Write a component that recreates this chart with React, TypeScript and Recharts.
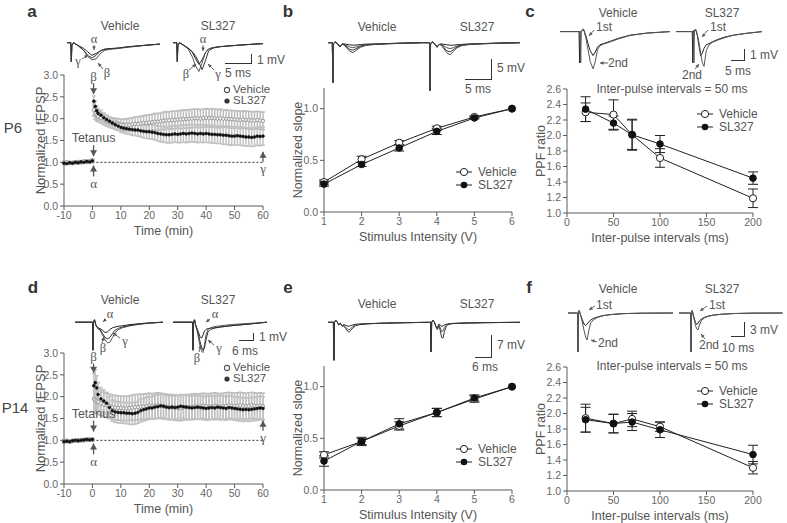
import React from 'react';
import {
  ComposedChart,
  LineChart,
  Line,
  XAxis,
  YAxis,
  ErrorBar,
  ReferenceLine,
  ReferenceDot,
} from 'recharts';

const FONT = '"Liberation Sans", Arial, Helvetica, sans-serif';
const SERIF = '"Liberation Serif", "Times New Roman", serif';
const AXIS = '#5a5a5a';
const TEXT = '#555';
const INK = '#222';
const TRACE_COLORS = ['#222', '#555', '#333', '#444'];

// ---- LTP time course (a, d), minutes ----
const TIME = [
  -10, -9, -8, -7, -6, -5, -4, -3, -2, -1, 0,
  0.5, 1, 1.5, 2,
  3, 4, 5, 6, 7, 8, 9, 10,
  11, 12, 13, 14, 15, 16, 17, 18, 19, 20,
  21, 22, 23, 24, 25, 26, 27, 28, 29, 30,
  31, 32, 33, 34, 35, 36, 37, 38, 39, 40,
  41, 42, 43, 44, 45, 46, 47, 48, 49, 50,
  51, 52, 53, 54, 55, 56, 57, 58, 59, 60,
];

const A_VEH = [
  0.99, 1.0, 0.98, 0.99, 1.0, 1.01, 1.0, 1.02, 1.01, 1.02, 1.04,
  2.2, 2.12, 2.08, 2.05,
  2.02, 1.98, 1.95, 1.92, 1.9, 1.88, 1.87, 1.86,
  1.85, 1.86, 1.86, 1.87, 1.88, 1.88, 1.89, 1.9, 1.9, 1.91,
  1.92, 1.93, 1.93, 1.94, 1.95, 1.96, 1.96, 1.97, 1.97, 1.98,
  1.98, 1.99, 1.99, 2.0, 2.0, 2.01, 2.01, 2.0, 2.01, 2.02,
  2.01, 2.02, 2.01, 2.0, 2.01, 2.0, 2.0, 1.99, 1.99, 1.98,
  1.98, 1.97, 1.98, 1.97, 1.97, 1.96, 1.96, 1.97, 1.96, 1.95,
];
const A_VEH_ERR = [
  0.03, 0.03, 0.02, 0.03, 0.03, 0.02, 0.03, 0.03, 0.03, 0.03, 0.04,
  0.14, 0.13, 0.13, 0.12,
  0.12, 0.12, 0.12, 0.12, 0.12, 0.13, 0.13, 0.13,
  0.14, 0.14, 0.15, 0.15, 0.16, 0.16, 0.17, 0.17, 0.18, 0.18,
  0.18, 0.19, 0.19, 0.19, 0.2, 0.2, 0.2, 0.2, 0.2, 0.2,
  0.21, 0.21, 0.21, 0.21, 0.21, 0.21, 0.21, 0.21, 0.21, 0.21,
  0.21, 0.21, 0.21, 0.21, 0.21, 0.2, 0.2, 0.2, 0.2, 0.2,
  0.2, 0.2, 0.2, 0.2, 0.2, 0.2, 0.2, 0.2, 0.2, 0.2,
];
const A_SL = [
  0.98, 0.97, 0.99, 0.98, 1.0, 0.99, 1.01, 1.0, 1.02, 1.01, 1.03,
  2.4, 2.28, 2.18, 2.12,
  2.08, 2.02, 1.98, 1.94, 1.9, 1.86, 1.83, 1.8,
  1.78, 1.77, 1.76, 1.75, 1.74, 1.74, 1.72, 1.71, 1.7, 1.7,
  1.69, 1.68, 1.66, 1.65, 1.64, 1.63, 1.63, 1.64, 1.65, 1.64,
  1.65, 1.66, 1.65, 1.66, 1.67, 1.66, 1.65, 1.66, 1.65, 1.66,
  1.65, 1.64, 1.64, 1.63, 1.63, 1.62, 1.62, 1.61, 1.6, 1.6,
  1.61, 1.6, 1.59, 1.58, 1.58, 1.57, 1.58, 1.6, 1.59, 1.6,
];
const A_SL_ERR = [
  0.03, 0.02, 0.03, 0.03, 0.02, 0.03, 0.03, 0.02, 0.03, 0.03, 0.04,
  0.12, 0.12, 0.11, 0.11,
  0.11, 0.11, 0.1, 0.1, 0.1, 0.1, 0.1, 0.11,
  0.11, 0.12, 0.12, 0.13, 0.13, 0.14, 0.14, 0.15, 0.15, 0.16,
  0.16, 0.17, 0.17, 0.18, 0.18, 0.18, 0.19, 0.19, 0.19, 0.19,
  0.2, 0.2, 0.2, 0.2, 0.2, 0.2, 0.2, 0.2, 0.2, 0.2,
  0.2, 0.2, 0.2, 0.2, 0.2, 0.21, 0.21, 0.21, 0.21, 0.21,
  0.21, 0.21, 0.21, 0.21, 0.21, 0.21, 0.21, 0.21, 0.21, 0.21,
];

const D_VEH = [
  0.98, 0.99, 0.97, 0.98, 0.99, 1.0, 1.01, 1.0, 1.01, 1.02, 1.01,
  1.95, 1.92, 1.9, 1.88,
  1.85, 1.82, 1.8, 1.78, 1.76, 1.75, 1.74, 1.74,
  1.73, 1.73, 1.74, 1.75, 1.76, 1.76, 1.77, 1.77, 1.78, 1.79,
  1.78, 1.79, 1.8, 1.79, 1.78, 1.77, 1.76, 1.76, 1.75, 1.74,
  1.74, 1.75, 1.76, 1.76, 1.77, 1.78, 1.77, 1.78, 1.79, 1.78,
  1.77, 1.78, 1.79, 1.78, 1.77, 1.78, 1.79, 1.8, 1.79, 1.78,
  1.79, 1.8, 1.79, 1.78, 1.79, 1.8, 1.79, 1.78, 1.79, 1.78,
];
const D_VEH_ERR = [
  0.03, 0.03, 0.03, 0.02, 0.03, 0.03, 0.02, 0.03, 0.03, 0.03, 0.03,
  0.3, 0.3, 0.29, 0.29,
  0.28, 0.28, 0.28, 0.28, 0.28, 0.28, 0.28, 0.28,
  0.28, 0.28, 0.28, 0.29, 0.29, 0.29, 0.29, 0.29, 0.29, 0.29,
  0.29, 0.29, 0.29, 0.29, 0.29, 0.29, 0.29, 0.29, 0.29, 0.29,
  0.29, 0.29, 0.29, 0.29, 0.29, 0.29, 0.29, 0.29, 0.29, 0.29,
  0.3, 0.3, 0.3, 0.3, 0.3, 0.3, 0.3, 0.3, 0.3, 0.3,
  0.3, 0.3, 0.3, 0.3, 0.3, 0.3, 0.3, 0.3, 0.3, 0.3,
];
const D_SL = [
  0.97, 0.98, 0.97, 0.99, 1.0, 0.99, 1.0, 1.01, 1.02, 1.01, 1.02,
  2.25, 2.32, 2.2, 2.05,
  1.95, 1.9, 1.85, 1.75, 1.68, 1.65, 1.64, 1.63,
  1.63, 1.62, 1.62, 1.61, 1.62, 1.64, 1.68, 1.7, 1.72, 1.74,
  1.74, 1.76, 1.77, 1.79, 1.78, 1.76, 1.75, 1.76, 1.75, 1.76,
  1.78, 1.77, 1.76, 1.75, 1.74, 1.75, 1.76, 1.75, 1.74, 1.73,
  1.74, 1.75, 1.74, 1.76, 1.75, 1.74, 1.73, 1.75, 1.74, 1.73,
  1.72, 1.71, 1.7, 1.71, 1.7, 1.71, 1.72, 1.73, 1.74, 1.73,
];
const D_SL_ERR = [
  0.03, 0.03, 0.03, 0.03, 0.02, 0.03, 0.03, 0.03, 0.03, 0.03, 0.03,
  0.28, 0.3, 0.28, 0.27,
  0.26, 0.26, 0.25, 0.25, 0.24, 0.24, 0.24, 0.24,
  0.24, 0.24, 0.25, 0.25, 0.25, 0.25, 0.26, 0.26, 0.26, 0.26,
  0.26, 0.27, 0.27, 0.27, 0.27, 0.27, 0.27, 0.27, 0.27, 0.27,
  0.27, 0.27, 0.27, 0.27, 0.27, 0.27, 0.27, 0.27, 0.27, 0.27,
  0.27, 0.27, 0.27, 0.27, 0.27, 0.27, 0.27, 0.27, 0.27, 0.27,
  0.27, 0.27, 0.27, 0.27, 0.27, 0.27, 0.27, 0.27, 0.27, 0.27,
];

// ---- input-output (b, e) ----
const VOLTS = [1, 2, 3, 4, 5, 6];
const B_VEH = [0.29, 0.51, 0.67, 0.81, 0.92, 1.0];
const B_VEH_ERR = [0.02, 0.03, 0.02, 0.02, 0.01, 0];
const B_SL = [0.27, 0.46, 0.62, 0.78, 0.91, 1.0];
const B_SL_ERR = [0.02, 0.02, 0.03, 0.03, 0.01, 0];
const E_VEH = [0.34, 0.47, 0.62, 0.75, 0.88, 1.0];
const E_VEH_ERR = [0.03, 0.03, 0.04, 0.04, 0.03, 0];
const E_SL = [0.28, 0.47, 0.64, 0.75, 0.89, 1.0];
const E_SL_ERR = [0.05, 0.04, 0.05, 0.04, 0.03, 0];

// ---- paired-pulse (c, f) ----
const IPI = [20, 50, 70, 100, 200];
const C_VEH = [2.3, 2.27, 2.01, 1.71, 1.19];
const C_VEH_ERR = [0.12, 0.19, 0.19, 0.12, 0.12];
const C_SL = [2.34, 2.16, 2.01, 1.89, 1.45];
const C_SL_ERR = [0.16, 0.09, 0.2, 0.11, 0.08];
const F_VEH = [1.94, 1.87, 1.93, 1.83, 1.3];
const F_VEH_ERR = [0.18, 0.12, 0.1, 0.06, 0.08];
const F_SL = [1.92, 1.87, 1.89, 1.79, 1.47];
const F_SL_ERR = [0.16, 0.12, 0.11, 0.1, 0.12];

// ---- example traces (ms, mV) ----
const A_VEH_T = [0, 0.7, 0.8, 0.9, 1.2, 2.0, 3.0, 3.8, 4.6, 5.4, 6.2, 7.0, 7.8, 9.4, 11.4, 14.2, 17.2];
const A_VEH_ALPHA = [0, 0, -2.1, -0.3, 0, -0.3, -0.6, -1.0, -1.4, -1.2, -0.9, -0.75, -0.7, -0.6, -0.45, -0.3, -0.15];
const A_VEH_BETA = [0, 0, -2.1, -0.3, 0, -0.3, -0.8, -1.5, -1.9, -1.8, -1.2, -0.85, -0.75, -0.65, -0.5, -0.32, -0.16];
const A_VEH_GAMMA = [0, 0, -2.1, -0.3, 0, -0.3, -0.8, -1.4, -1.7, -1.4, -0.9, -0.7, -0.65, -0.6, -0.45, -0.3, -0.15];
const A_SL_T = [0, 0.7, 0.8, 0.9, 1.2, 2.0, 2.8, 3.6, 4.2, 4.8, 5.4, 6.0, 6.6, 7.4, 8.6, 10.5, 13.5, 16.7];
const A_SL_ALPHA = [0, 0, -2.1, -0.3, 0, -0.3, -0.6, -1.1, -1.8, -2.4, -1.9, -1.1, -0.7, -0.55, -0.45, -0.35, -0.22, -0.1];
const A_SL_BETA = [0, 0, -2.1, -0.3, 0, -0.3, -0.7, -1.6, -2.6, -3.2, -2.2, -1.1, -0.7, -0.55, -0.45, -0.35, -0.22, -0.1];
const A_SL_GAMMA = [0, 0, -2.1, -0.3, 0, -0.3, -0.6, -1.0, -1.5, -2.2, -3.0, -2.0, -0.9, -0.6, -0.45, -0.35, -0.22, -0.1];

const B_VEH_T = [0, 0.8, 0.9, 1.0, 1.3, 1.8, 2.2, 2.6, 3.0, 3.5, 4.0, 4.6, 5.2, 6.0, 7.0, 8.5, 11, 14, 17.6];
const B_VEH_1 = [0, 0, -9.5, -0.3, 0.2, -0.3, -0.9, -0.3, -0.3, -0.4, -0.5, -0.6, -0.55, -0.45, -0.35, -0.3, -0.2, -0.1, 0];
const B_VEH_2 = [0, 0, -9.5, -0.3, 0.2, -0.3, -0.9, -0.3, -0.4, -0.7, -1.0, -1.2, -1.0, -0.7, -0.45, -0.35, -0.22, -0.1, 0];
const B_VEH_3 = [0, 0, -9.5, -0.3, 0.2, -0.3, -1.0, -0.3, -0.5, -1.0, -1.6, -1.8, -1.4, -0.9, -0.55, -0.4, -0.25, -0.12, 0];
const B_VEH_4 = [0, 0, -9.5, -0.3, 0.2, -0.3, -1.0, -0.3, -0.6, -1.3, -2.0, -2.4, -1.8, -1.1, -0.65, -0.45, -0.28, -0.14, 0];
const B_SL_T = [0, 1.2, 1.3, 1.4, 1.7, 2.2, 2.6, 3.0, 3.4, 3.9, 4.4, 5.0, 5.6, 6.3, 7.2, 8.6, 11, 14, 18];
const B_SL_1 = [0, 0, -11.4, -0.3, 0.2, -0.3, -1.0, -0.4, -0.3, -0.4, -0.5, -0.6, -0.6, -0.5, -0.4, -0.3, -0.2, -0.1, 0];
const B_SL_2 = [0, 0, -11.4, -0.3, 0.2, -0.3, -1.0, -0.4, -0.4, -0.8, -1.2, -1.4, -1.2, -0.8, -0.5, -0.35, -0.22, -0.1, 0];
const B_SL_3 = [0, 0, -11.4, -0.3, 0.2, -0.3, -1.1, -0.4, -0.5, -1.2, -1.9, -2.2, -1.7, -1.0, -0.6, -0.4, -0.25, -0.12, 0];
const B_SL_4 = [0, 0, -11.4, -0.3, 0.2, -0.3, -1.1, -0.4, -0.6, -1.5, -2.4, -2.9, -2.1, -1.2, -0.7, -0.45, -0.28, -0.14, 0];

const C_VEH_T = [0, 6.8, 7.0, 7.2, 7.4, 7.6, 7.8, 8.4, 9.2, 10.0, 10.8, 11.8, 12.6, 13.4, 14.2, 15.5, 18, 21, 25, 31, 39.3];
const C_VEH_1ST = [0, 0, -2.6, 0, 0, 0, 0.1, 0.2, -0.3, -1.0, -1.6, -2.0, -1.7, -1.3, -1.1, -1.0, -0.8, -0.55, -0.3, -0.12, 0];
const C_VEH_2ND = [0, 0, 0, 0, -2.6, 0, 0.1, 0.2, -0.5, -1.5, -2.5, -3.1, -2.5, -1.5, -1.2, -1.05, -0.85, -0.6, -0.32, -0.13, 0];
const C_SL_T = [0, 5.8, 6.0, 6.2, 6.4, 6.6, 7.0, 7.6, 8.2, 8.8, 9.4, 10.0, 10.8, 11.8, 13, 15, 17.5, 20.5, 25, 30.7];
const C_SL_1ST = [0, 0, -2.6, 0.1, 0, 0, 0.2, -0.3, -1.2, -2.0, -1.8, -1.4, -1.1, -1.0, -0.85, -0.65, -0.45, -0.3, -0.15, 0];
const C_SL_2ND = [0, 0, 0, 0, -2.6, 0.1, 0.2, -0.2, -0.9, -1.8, -2.6, -2.9, -1.6, -1.1, -0.9, -0.7, -0.5, -0.3, -0.15, 0];

const D_VEH_T = [0, 7.0, 7.2, 7.4, 7.8, 8.4, 9.2, 10.0, 11.0, 12.0, 13.0, 14.0, 15.0, 16.0, 17.5, 19, 22, 26, 30, 35.2];
const D_VEH_ALPHA = [0, 0, -3.5, 0, 0.3, -0.4, -0.7, -0.8, -1.0, -1.3, -1.2, -0.9, -0.7, -0.6, -0.5, -0.45, -0.3, -0.18, -0.08, 0];
const D_VEH_BETA = [0, 0, -3.5, 0, 0.3, -0.4, -0.8, -1.0, -1.6, -2.2, -2.6, -2.5, -1.9, -1.3, -0.9, -0.7, -0.45, -0.25, -0.12, 0];
const D_VEH_GAMMA = [0, 0, -3.5, 0, 0.3, -0.4, -0.8, -0.9, -1.4, -1.9, -2.1, -1.9, -1.4, -1.0, -0.75, -0.6, -0.4, -0.22, -0.1, 0];
const D_SL_T = [0, 7.8, 8.0, 8.2, 8.6, 9.0, 9.6, 10.2, 10.8, 11.4, 12.0, 12.6, 13.2, 14.0, 15.0, 16.5, 19, 23, 28, 33, 37.6];
const D_SL_ALPHA = [0, 0, -3.5, 0, 0.3, -0.3, -0.8, -1.3, -1.8, -2.0, -1.6, -1.1, -0.9, -0.8, -0.75, -0.7, -0.6, -0.45, -0.3, -0.15, 0];
const D_SL_BETA = [0, 0, -3.5, 0, 0.3, -0.3, -1.0, -2.0, -3.0, -3.6, -3.8, -2.8, -1.6, -0.9, -0.7, -0.55, -0.45, -0.3, -0.2, -0.1, 0];
const D_SL_GAMMA = [0, 0, -3.5, 0, 0.3, -0.3, -0.9, -1.5, -2.4, -3.1, -3.5, -3.2, -2.2, -1.2, -0.9, -0.75, -0.6, -0.45, -0.3, -0.15, 0];

const E_VEH_T = [0, 1.9, 2.1, 2.3, 2.7, 3.2, 3.8, 4.4, 5.0, 5.6, 6.2, 6.8, 7.4, 8.0, 8.8, 9.8, 11.2, 14, 20, 27, 35.3];
const E_VEH_1 = [0, 0, -11.5, 0, 0.6, 0.2, -0.8, -0.3, -1.0, -0.7, -0.9, -1.1, -1.2, -1.0, -0.8, -0.6, -0.5, -0.4, -0.25, -0.12, 0];
const E_VEH_2 = [0, 0, -11.5, 0, 0.6, 0.2, -0.8, -0.3, -1.1, -0.9, -1.4, -2.0, -2.3, -1.9, -1.3, -0.8, -0.6, -0.45, -0.25, -0.12, 0];
const E_VEH_3 = [0, 0, -11.5, 0, 0.6, 0.2, -0.8, -0.3, -1.2, -1.1, -1.8, -2.6, -3.0, -2.5, -1.7, -1.0, -0.7, -0.45, -0.25, -0.12, 0];
const E_SL_T = [0, 0.9, 1.1, 1.3, 1.7, 2.2, 2.8, 3.3, 3.8, 4.3, 4.8, 5.3, 5.8, 6.4, 7.0, 7.8, 8.8, 10.5, 14, 20, 32.5];
const E_SL_1 = [0, 0, -9, 0, 0.6, 0.2, -1.2, -1.8, -0.6, -0.8, -1.2, -1.1, -0.8, -0.6, -0.5, -0.4, -0.35, -0.3, -0.2, -0.1, 0];
const E_SL_2 = [0, 0, -9, 0, 0.6, 0.2, -1.3, -2.0, -0.8, -1.5, -2.8, -2.6, -1.6, -0.9, -0.6, -0.45, -0.35, -0.3, -0.2, -0.1, 0];
const E_SL_3 = [0, 0, -9, 0, 0.6, 0.2, -1.4, -2.2, -1.0, -2.4, -4.6, -4.8, -2.8, -1.3, -0.8, -0.5, -0.4, -0.3, -0.2, -0.1, 0];

const F_VEH_T = [0, 6.8, 7.1, 7.4, 8.0, 9.0, 10.2, 11.4, 12.6, 13.6, 14.8, 16.2, 18, 21, 25, 31, 40, 52, 75];
const F_VEH_1ST = [0, 0, -7.8, 0, 0.5, -0.4, -1.3, -2.2, -2.5, -2.2, -1.8, -1.4, -1.1, -0.8, -0.5, -0.3, -0.12, -0.04, 0];
const F_VEH_2ND = [0, 0, -7.8, 0, 0.5, -0.5, -1.8, -3.4, -4.8, -5.4, -3.6, -2.0, -1.4, -0.9, -0.55, -0.3, -0.12, -0.04, 0];
const F_SL_T = [0, 8.3, 8.6, 8.9, 9.5, 10.2, 11.0, 11.8, 12.7, 13.6, 14.6, 16, 18, 21, 25, 31, 40, 52, 74];
const F_SL_1ST = [0, 0, -7.8, 0, 0.5, -0.4, -1.2, -1.9, -2.3, -2.0, -1.6, -1.2, -0.9, -0.6, -0.4, -0.22, -0.1, -0.03, 0];
const F_SL_2ND = [0, 0, -7.8, 0, 0.5, -0.5, -1.5, -2.5, -3.2, -3.4, -2.4, -1.5, -1.0, -0.65, -0.42, -0.24, -0.1, -0.03, 0];

const LTP_TICKS_X = [-10, 0, 10, 20, 30, 40, 50, 60];
const LTP_TICKS_Y = [0, 0.5, 1, 1.5, 2, 2.5, 3];
const IO_TICKS_Y = [0, 0.5, 1];
const PPF_TICKS_X = [0, 50, 100, 150, 200];
const PPF_TICKS_Y = [1, 1.2, 1.4, 1.6, 1.8, 2, 2.2, 2.4, 2.6];

const zip = (xs: number[], veh: number[], vehErr: number[], sl: number[], slErr: number[]) =>
  xs.map((x, i) => ({ x, veh: veh[i], vehErr: vehErr[i], sl: sl[i], slErr: slErr[i] }));

const aData = zip(TIME, A_VEH, A_VEH_ERR, A_SL, A_SL_ERR);
const dData = zip(TIME, D_VEH, D_VEH_ERR, D_SL, D_SL_ERR);
const bData = zip(VOLTS, B_VEH, B_VEH_ERR, B_SL, B_SL_ERR);
const eData = zip(VOLTS, E_VEH, E_VEH_ERR, E_SL, E_SL_ERR);
const cData = zip(IPI, C_VEH, C_VEH_ERR, C_SL, C_SL_ERR);
const fData = zip(IPI, F_VEH, F_VEH_ERR, F_SL, F_SL_ERR);

const tick = { fontSize: 10.5, fill: '#666', fontFamily: FONT };
const axisLine = { stroke: AXIS, strokeWidth: 1 };
const fmt1 = (v: number) => v.toFixed(1);

function Txt({ x, y, size = 12, anchor = 'middle', color = TEXT, bold = false, serif = false, children }: any) {
  const tx = anchor === 'middle' ? '-50%' : anchor === 'end' ? '-100%' : '0';
  return (
    <div
      style={{
        position: 'absolute', left: x, top: y, transform: `translate(${tx},-50%)`,
        fontSize: size, lineHeight: 1, whiteSpace: 'nowrap', color,
        fontWeight: bold ? 700 : 400, fontFamily: serif ? SERIF : FONT,
      }}
    >
      {children}
    </div>
  );
}

function ScaleBar({ x, y, w, h }: any) {
  return (
    <div
      style={{
        position: 'absolute', left: x - w, top: y - h, width: w, height: h,
        borderRight: '1.5px solid #333', borderBottom: '1.5px solid #333', boxSizing: 'border-box',
      }}
    />
  );
}

// small pointer arrows next to the trace labels
const POINTERS = [
  [94, 45, 94, 50], [82, 59, 88, 55], [103, 69, 98, 63],
  [203, 45, 203, 51], [189, 70, 196, 64], [214, 70, 208, 64],
  [594, 30, 589, 36], [608, 63, 600, 63], [708, 30, 702, 37], [695, 69, 699, 64],
  [106, 319, 103, 322], [102, 343, 104, 337], [120, 338, 113, 333],
  [210, 319, 206, 322], [199, 352, 201, 345], [214, 345, 208, 340],
  [595, 306, 589, 310], [597, 342, 591, 340], [707, 306, 700, 311], [705, 339, 701, 334],
];

function Pointers() {
  return (
    <svg width={787} height={523} style={{ position: 'absolute', left: 0, top: 0, pointerEvents: 'none' }}>
      {POINTERS.map(([x1, y1, x2, y2], i) => {
        const a = Math.atan2(y2 - y1, x2 - x1);
        const hx1 = x2 - 4 * Math.cos(a - 0.45), hy1 = y2 - 4 * Math.sin(a - 0.45);
        const hx2 = x2 - 4 * Math.cos(a + 0.45), hy2 = y2 - 4 * Math.sin(a + 0.45);
        return (
          <g key={i}>
            <line x1={x1} y1={y1} x2={x2} y2={y2} stroke="#555" strokeWidth={0.9} />
            <path d={`M${hx1},${hy1} L${x2},${y2} L${hx2},${hy2} Z`} fill="#555" />
          </g>
        );
      })}
    </svg>
  );
}

function Trace({ t, series, x0, y0, pxMs, pxMv, vMin, vMax }: any) {
  const tMax = t[t.length - 1];
  const data = t.map((tt: number, i: number) => {
    const row: any = { t: tt };
    series.forEach((s: number[], k: number) => { row['s' + k] = s[i]; });
    return row;
  });
  return (
    <div style={{ position: 'absolute', left: x0, top: y0 - vMax * pxMv }}>
      <LineChart width={tMax * pxMs} height={(vMax - vMin) * pxMv} data={data} margin={{ top: 0, right: 0, bottom: 0, left: 0 }}>
        <XAxis type="number" dataKey="t" domain={[0, tMax]} hide />
        <YAxis type="number" domain={[vMin, vMax]} hide />
        {series.map((_: any, k: number) => (
          <Line key={k} dataKey={'s' + k} type="linear" stroke={TRACE_COLORS[k]} strokeWidth={1} dot={false} isAnimationActive={false} />
        ))}
      </LineChart>
    </div>
  );
}

function ArrowMark({ cx, cy, dir, len, label, greek }: any) {
  const tail = dir === 'down' ? cy - len : cy + len;
  const head = dir === 'down'
    ? `M${cx - 3.5},${cy - 6} L${cx},${cy} L${cx + 3.5},${cy - 6} Z`
    : `M${cx - 3.5},${cy + 6} L${cx},${cy} L${cx + 3.5},${cy + 6} Z`;
  const ly = dir === 'down' ? tail - 7 : tail + 7;
  return (
    <g>
      <line x1={cx} y1={cy} x2={cx} y2={tail} stroke="#555" strokeWidth={1.3} />
      <path d={head} fill="#555" />
      <text x={cx} y={ly} textAnchor="middle" dominantBaseline="central" fill={TEXT}
        fontSize={greek ? 13 : 12.5} fontFamily={greek ? SERIF : FONT}>{label}</text>
    </g>
  );
}

function LtpChart({ data, top, padTop, marks }: any) {
  return (
    <div style={{ position: 'absolute', left: 0, top: top - padTop }}>
      <ComposedChart width={275} height={164 + padTop} data={data} margin={{ top: padTop, right: 12, bottom: 0, left: 0 }}>
        <XAxis type="number" dataKey="x" domain={[-10, 60]} ticks={LTP_TICKS_X} interval={0} height={33}
          tick={tick} tickSize={4} axisLine={axisLine} tickLine={axisLine}
          label={{ value: 'Time (min)', position: 'insideBottom', offset: 4, fill: TEXT, fontSize: 12.5 }} />
        <YAxis type="number" domain={[0, 3]} ticks={LTP_TICKS_Y} interval={0} width={64} tickFormatter={fmt1}
          tick={tick} tickSize={4} axisLine={axisLine} tickLine={axisLine}
          label={{ value: 'Normalized fEPSP', angle: -90, position: 'center', dx: 8, fill: TEXT, fontSize: 13 }} />
        <ReferenceLine segment={[{ x: 0, y: 1 }, { x: 60, y: 1 }]} stroke="#333" strokeDasharray="2 2" />
        <Line dataKey="veh" stroke="none" isAnimationActive={false}
          dot={{ r: 1.7, fill: '#f4f4f4', stroke: '#8a8a8a', strokeWidth: 0.8 }}>
          <ErrorBar dataKey="vehErr" width={2} stroke="#bcbcbc" strokeWidth={1.5} direction="y" />
        </Line>
        <Line dataKey="sl" stroke="none" isAnimationActive={false}
          dot={{ r: 1.45, fill: '#111', stroke: '#111', strokeWidth: 0.5 }}>
          <ErrorBar dataKey="slErr" width={2} stroke="#c2c2c2" strokeWidth={1.5} direction="y" />
        </Line>
        {marks.map((m: any, i: number) => (
          <ReferenceDot key={i} x={m.x} y={m.y} r={0} ifOverflow="visible"
            shape={(p: any) => <ArrowMark cx={p.cx} cy={p.cy} dir={m.dir} len={m.len} label={m.label} greek={m.greek} />} />
        ))}
      </ComposedChart>
    </div>
  );
}

function SeriesLines({ withCaps }: any) {
  return [
    <Line key="veh" dataKey="veh" stroke={INK} strokeWidth={1} isAnimationActive={false}
      dot={{ r: 3.6, fill: '#fff', stroke: INK, strokeWidth: 1 }}>
      <ErrorBar dataKey="vehErr" width={withCaps} stroke={INK} strokeWidth={1} direction="y" />
    </Line>,
    <Line key="sl" dataKey="sl" stroke={INK} strokeWidth={1} isAnimationActive={false}
      dot={{ r: 3.3, fill: '#111', stroke: '#111', strokeWidth: 1 }}>
      <ErrorBar dataKey="slErr" width={withCaps} stroke={INK} strokeWidth={1} direction="y" />
    </Line>,
  ];
}

function IoChart({ data, top }: any) {
  return (
    <div style={{ position: 'absolute', left: 262, top }}>
      <ComposedChart width={265} height={165} data={data} margin={{ top: 8, right: 15, bottom: 0, left: 0 }}>
        <XAxis type="number" dataKey="x" domain={[1, 6]} ticks={VOLTS} interval={0} height={33}
          tick={tick} tickSize={4} axisLine={axisLine} tickLine={axisLine}
          label={{ value: 'Stimulus Intensity (V)', position: 'insideBottom', offset: 4, fill: TEXT, fontSize: 12.5 }} />
        <YAxis type="number" domain={[0, 1.2]} ticks={IO_TICKS_Y} interval={0} width={62} tickFormatter={fmt1}
          tick={tick} tickSize={4} axisLine={axisLine} tickLine={axisLine}
          label={{ value: 'Normalized slope', angle: -90, position: 'center', dx: 5, fill: TEXT, fontSize: 12.5 }} />
        {SeriesLines({ withCaps: 5 })}
      </ComposedChart>
    </div>
  );
}

function PpfChart({ data, top }: any) {
  return (
    <div style={{ position: 'absolute', left: 525, top }}>
      <ComposedChart width={240} height={164} data={data} margin={{ top: 7, right: 12, bottom: 0, left: 0 }}>
        <XAxis type="number" dataKey="x" domain={[0, 200]} ticks={PPF_TICKS_X} interval={0} height={33}
          tick={tick} tickSize={4} axisLine={axisLine} tickLine={axisLine}
          label={{ value: 'Inter-pulse intervals (ms)', position: 'insideBottom', offset: 4, fill: TEXT, fontSize: 12.5 }} />
        <YAxis type="number" domain={[1, 2.6]} ticks={PPF_TICKS_Y} interval={0} width={42} tickFormatter={fmt1}
          tick={tick} tickSize={4} axisLine={axisLine} tickLine={axisLine}
          label={{ value: 'PPF ratio', angle: -90, position: 'center', dx: -5, fill: TEXT, fontSize: 12.5 }} />
        {SeriesLines({ withCaps: 5 })}
      </ComposedChart>
    </div>
  );
}

function DotLegend({ x, y1, y2 }: any) {
  return (
    <>
      <svg width={787} height={523} style={{ position: 'absolute', left: 0, top: 0, pointerEvents: 'none' }}>
        <circle cx={x} cy={y1} r={2.6} fill="#fff" stroke="#555" strokeWidth={1.1} />
        <circle cx={x} cy={y2} r={2.6} fill="#333" />
      </svg>
      <Txt x={x + 6} y={y1} anchor="start" size={11.5}>Vehicle</Txt>
      <Txt x={x + 6} y={y2} anchor="start" size={11.5}>SL327</Txt>
    </>
  );
}

function LineLegend({ x, y1, y2 }: any) {
  return (
    <>
      <svg width={787} height={523} style={{ position: 'absolute', left: 0, top: 0, pointerEvents: 'none' }}>
        <line x1={x - 8} x2={x + 8} y1={y1} y2={y1} stroke={INK} />
        <circle cx={x} cy={y1} r={3.6} fill="#fff" stroke={INK} />
        <line x1={x - 8} x2={x + 8} y1={y2} y2={y2} stroke={INK} />
        <circle cx={x} cy={y2} r={3.3} fill="#111" />
      </svg>
      <Txt x={x + 14} y={y1} anchor="start" size={12}>Vehicle</Txt>
      <Txt x={x + 14} y={y2} anchor="start" size={12}>SL327</Txt>
    </>
  );
}

const A_MARKS = [
  { x: 0.4, y: 2.56, dir: 'down', len: 11, label: 'β', greek: true },
  { x: 0.4, y: 1.14, dir: 'down', len: 11, label: 'Tetanus' },
  { x: 0.4, y: 0.93, dir: 'up', len: 11, label: 'α', greek: true },
  { x: 60, y: 1.24, dir: 'up', len: 10, label: 'γ', greek: true },
];
const D_MARKS = [
  { x: 0.4, y: 2.55, dir: 'down', len: 9, label: 'β', greek: true },
  { x: 0.4, y: 1.2, dir: 'down', len: 11, label: 'Tetanus' },
  { x: 0.4, y: 0.93, dir: 'up', len: 11, label: 'α', greek: true },
  { x: 60, y: 1.45, dir: 'up', len: 10, label: 'γ', greek: true },
];

export default function App() {
  return (
    <div style={{ position: 'absolute', left: 0, top: 0, width: 787, height: 523, background: '#fff', overflow: 'hidden', fontFamily: FONT }}>
      {/* panel letters and age labels */}
      <Txt x={32} y={11} size={17} bold color="#333">a</Txt>
      <Txt x={288} y={11} size={17} bold color="#333">b</Txt>
      <Txt x={530} y={11} size={17} bold color="#333">c</Txt>
      <Txt x={33} y={287} size={17} bold color="#333">d</Txt>
      <Txt x={288} y={287} size={17} bold color="#333">e</Txt>
      <Txt x={529} y={287} size={17} bold color="#333">f</Txt>
      <Txt x={13} y={127} size={15} color="#444">P6</Txt>
      <Txt x={15} y={407} size={15} color="#444">P14</Txt>

      {/* trace titles */}
      <Txt x={120} y={26}>Vehicle</Txt>
      <Txt x={218} y={26}>SL327</Txt>
      <Txt x={377} y={27}>Vehicle</Txt>
      <Txt x={477} y={27}>SL327</Txt>
      <Txt x={618} y={13}>Vehicle</Txt>
      <Txt x={722} y={13}>SL327</Txt>
      <Txt x={120} y={300}>Vehicle</Txt>
      <Txt x={218} y={300}>SL327</Txt>
      <Txt x={377} y={304}>Vehicle</Txt>
      <Txt x={477} y={304}>SL327</Txt>
      <Txt x={618} y={289}>Vehicle</Txt>
      <Txt x={722} y={289}>SL327</Txt>

      {/* traces */}
      <Trace t={A_VEH_T} series={[A_VEH_ALPHA, A_VEH_BETA, A_VEH_GAMMA]} x0={67} y0={43} pxMs={5.4} pxMv={9} vMin={-3.4} vMax={0.3} />
      <Trace t={A_SL_T} series={[A_SL_ALPHA, A_SL_BETA, A_SL_GAMMA]} x0={173} y0={43} pxMs={5.4} pxMv={9} vMin={-3.4} vMax={0.3} />
      <Trace t={B_VEH_T} series={[B_VEH_1, B_VEH_2, B_VEH_3, B_VEH_4]} x0={328} y0={43} pxMs={5.4} pxMv={4.2} vMin={-11.6} vMax={0.4} />
      <Trace t={B_SL_T} series={[B_SL_1, B_SL_2, B_SL_3, B_SL_4]} x0={423} y0={43} pxMs={5.4} pxMv={4.2} vMin={-11.6} vMax={0.4} />
      <Trace t={C_VEH_T} series={[C_VEH_1ST, C_VEH_2ND]} x0={560} y0={32} pxMs={2.8} pxMv={12} vMin={-3.3} vMax={0.3} />
      <Trace t={C_SL_T} series={[C_SL_1ST, C_SL_2ND]} x0={676} y0={32} pxMs={2.8} pxMv={12} vMin={-3.3} vMax={0.3} />
      <Trace t={D_VEH_T} series={[D_VEH_ALPHA, D_VEH_BETA, D_VEH_GAMMA]} x0={75} y0={322} pxMs={2.5} pxMv={8} vMin={-4} vMax={0.4} />
      <Trace t={D_SL_T} series={[D_SL_ALPHA, D_SL_BETA, D_SL_GAMMA]} x0={173} y0={322} pxMs={2.5} pxMv={8} vMin={-4} vMax={0.4} />
      <Trace t={E_VEH_T} series={[E_VEH_1, E_VEH_2, E_VEH_3]} x0={328} y0={322} pxMs={2.83} pxMv={3.3} vMin={-11.8} vMax={0.7} />
      <Trace t={E_SL_T} series={[E_SL_1, E_SL_2, E_SL_3]} x0={428} y0={322} pxMs={2.83} pxMv={3.3} vMin={-11.8} vMax={0.7} />
      <Trace t={F_VEH_T} series={[F_VEH_1ST, F_VEH_2ND]} x0={568} y0={313} pxMs={1.4} pxMv={5} vMin={-8} vMax={0.6} />
      <Trace t={F_SL_T} series={[F_SL_1ST, F_SL_2ND]} x0={679} y0={313} pxMs={1.4} pxMv={5} vMin={-8} vMax={0.6} />

      {/* trace annotations */}
      <Txt x={94} y={39} size={12.5} serif>α</Txt>
      <Txt x={78} y={61} size={12.5} serif>γ</Txt>
      <Txt x={107} y={73} size={12.5} serif>β</Txt>
      <Txt x={203} y={39} size={12.5} serif>α</Txt>
      <Txt x={186} y={74} size={12.5} serif>β</Txt>
      <Txt x={218} y={74} size={12.5} serif>γ</Txt>
      <Txt x={110} y={314} size={12.5} serif>α</Txt>
      <Txt x={103} y={348} size={12.5} serif>β</Txt>
      <Txt x={125} y={341} size={12.5} serif>γ</Txt>
      <Txt x={215} y={314} size={12.5} serif>α</Txt>
      <Txt x={197} y={358} size={12.5} serif>β</Txt>
      <Txt x={219} y={348} size={12.5} serif>γ</Txt>
      <Txt x={604} y={27}>1st</Txt>
      <Txt x={618} y={63}>2nd</Txt>
      <Txt x={718} y={27}>1st</Txt>
      <Txt x={692} y={75}>2nd</Txt>
      <Txt x={604} y={305}>1st</Txt>
      <Txt x={608} y={343}>2nd</Txt>
      <Txt x={717} y={305}>1st</Txt>
      <Txt x={709} y={345}>2nd</Txt>
      <Pointers />

      {/* scale bars */}
      <ScaleBar x={252} y={64} w={27} h={10} />
      <Txt x={257} y={60} anchor="start">1 mV</Txt>
      <Txt x={238} y={73}>5 ms</Txt>
      <ScaleBar x={492} y={80} w={27} h={21} />
      <Txt x={497} y={68} anchor="start">5 mV</Txt>
      <Txt x={478} y={89}>5 ms</Txt>
      <ScaleBar x={745} y={61} w={14} h={12} />
      <Txt x={750} y={55} anchor="start">1 mV</Txt>
      <Txt x={738} y={71}>5 ms</Txt>
      <ScaleBar x={254} y={341} w={15} h={8} />
      <Txt x={259} y={337} anchor="start">1 mV</Txt>
      <Txt x={245} y={351}>6 ms</Txt>
      <ScaleBar x={492} y={358} w={17} h={23} />
      <Txt x={497} y={345} anchor="start">7 mV</Txt>
      <Txt x={485} y={367}>6 ms</Txt>
      <ScaleBar x={745} y={337} w={14} h={15} />
      <Txt x={750} y={330} anchor="start">3 mV</Txt>
      <Txt x={738} y={348}>10 ms</Txt>

      {/* charts */}
      <LtpChart data={aData} top={75} padTop={6} marks={A_MARKS} />
      <LtpChart data={dData} top={353} padTop={18} marks={D_MARKS} />
      <IoChart data={bData} top={80} />
      <IoChart data={eData} top={358} />
      <PpfChart data={cData} top={82} />
      <PpfChart data={fData} top={360} />

      <Txt x={672} y={89}>Inter-pulse intervals = 50 ms</Txt>
      <Txt x={672} y={366}>Inter-pulse intervals = 50 ms</Txt>

      {/* legends */}
      <DotLegend x={227} y1={90} y2={101} />
      <DotLegend x={227} y1={368} y2={379} />
      <LineLegend x={464} y1={172} y2={185} />
      <LineLegend x={464} y1={449} y2={462} />
      <LineLegend x={705} y1={114} y2={127} />
      <LineLegend x={705} y1={391} y2={404} />
    </div>
  );
}
